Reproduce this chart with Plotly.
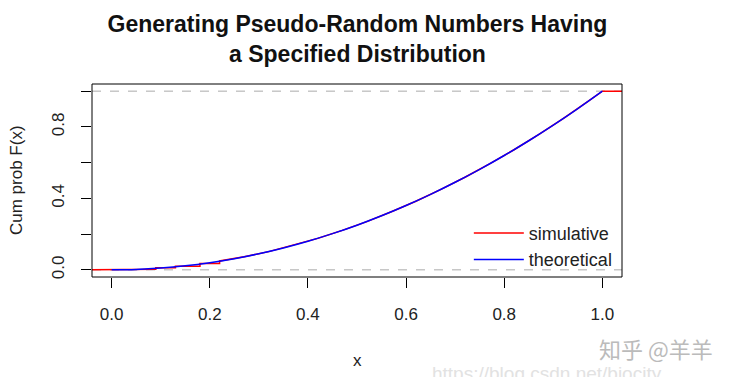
import plotly.graph_objects as go

# theoretical CDF
theo_x = [0.0, 0.05, 0.1, 0.15, 0.2, 0.25, 0.3, 0.35, 0.4, 0.45, 0.5,
          0.55, 0.6, 0.65, 0.7, 0.75, 0.8, 0.85, 0.9, 0.95, 1.0]
theo_y = [0.0, 0.0025, 0.01, 0.0225, 0.04, 0.0625, 0.09, 0.1225, 0.16, 0.2025, 0.25,
          0.3025, 0.36, 0.4225, 0.49, 0.5625, 0.64, 0.7225, 0.81, 0.9025, 1.0]

sim_x = [-0.04, 0.0, 0.03, 0.03, 0.09, 0.09, 0.13, 0.13, 0.18, 0.18, 0.22, 0.22,
         0.27, 0.32, 0.37, 0.42, 0.47, 0.52, 0.57, 0.62, 0.67, 0.72, 0.77,
         0.82, 0.87, 0.92, 0.97, 1.0, 1.04]
sim_y = [0.0, 0.0, 0.0, 0.004, 0.004, 0.012, 0.012, 0.02, 0.02, 0.035, 0.035, 0.05,
         0.073, 0.102, 0.137, 0.176, 0.221, 0.27, 0.325, 0.384, 0.449, 0.518, 0.593,
         0.672, 0.757, 0.846, 0.941, 1.0, 1.0]

x_ticks = [0.0, 0.2, 0.4, 0.6, 0.8, 1.0]
x_tick_labels = ["0.0", "0.2", "0.4", "0.6", "0.8", "1.0"]
y_ticks = [0.0, 0.2, 0.4, 0.6, 0.8, 1.0]
y_tick_labels = ["0.0", "", "0.4", "", "0.8", ""]
ref_levels = [0.0, 1.0]

fig = go.Figure()
fig.add_trace(go.Scatter(x=sim_x, y=sim_y, mode="lines",
                         line=dict(color="red", width=1.5), name="simulative"))
fig.add_trace(go.Scatter(x=theo_x, y=theo_y, mode="lines", line_shape="spline",
                         line=dict(color="blue", width=1.5), name="theoretical"))

for lv in ref_levels:
    fig.add_shape(type="line", xref="paper", x0=0, x1=1, yref="y", y0=lv, y1=lv,
                  line=dict(color="#aaaaaa", width=1, dash="dash"), layer="below")

fig.add_shape(type="rect", xref="paper", yref="paper", x0=0, y0=0, x1=1, y1=1,
              line=dict(color="black", width=1))

font_main = "Liberation Sans, Arial, sans-serif"
fig.update_layout(
    width=731, height=377,
    margin=dict(l=92, r=109, t=84, b=100),
    paper_bgcolor="white", plot_bgcolor="white",
    font=dict(family=font_main, color="#222222", size=17),
    title=dict(text="<b>Generating Pseudo-Random Numbers Having<br>a Specified Distribution</b>",
               x=0.489, xanchor="center", y=1 - 32 / 377, yanchor="middle",
               font=dict(size=23, color="#111111")),
    showlegend=True,
    legend=dict(x=0.711, y=0.322, xanchor="left", yanchor="top",
                bgcolor="rgba(0,0,0,0)", font=dict(size=18, color="#222222"),
                tracegroupgap=0, itemwidth=50),
    xaxis=dict(range=[-0.04, 1.04], tickvals=x_ticks, ticktext=x_tick_labels,
               ticks="outside", ticklen=10, tickcolor="black", showgrid=False,
               zeroline=False, showline=False, tickfont=dict(size=17),
               ticklabelstandoff=12, automargin=False),
    yaxis=dict(range=[-0.04, 1.04], tickvals=y_ticks, ticktext=y_tick_labels,
               ticks="outside", ticklen=10, tickcolor="black", showgrid=False,
               zeroline=False, showline=False, tickangle=-90, tickfont=dict(size=17),
               ticklabelstandoff=10, automargin=False),
)

fig.add_annotation(text="x", xref="paper", yref="paper", x=0.5, y=-(360 - 277) / 193,
                   xanchor="center", yanchor="middle", showarrow=False,
                   font=dict(size=17, color="#222222"))
fig.add_annotation(text="Cum prob F(x)", xref="paper", yref="paper",
                   x=-(92 - 16) / 530, y=(277 - 180) / 193, textangle=-90,
                   xanchor="center", yanchor="middle", showarrow=False,
                   font=dict(size=17, color="#222222"))

fig.add_annotation(text="知乎 @羊羊", xref="paper", yref="paper", x=(597 - 92) / 530,
                   y=-(348 - 277) / 193, xanchor="left", yanchor="middle", showarrow=False,
                   font=dict(size=22, color="#bbbbbb", family="Noto Sans CJK SC"))
fig.add_annotation(text="https://blog.csdn.net/biocity", xref="paper", yref="paper",
                   x=(430 - 92) / 530, y=-(373 - 277) / 193, xanchor="left",
                   yanchor="middle", showarrow=False,
                   font=dict(size=19, color="#e2e2e2"))

fig.write_html("out.html", config={"displayModeBar": False},
               post_script="document.body.style.margin='0';document.body.style.overflow='hidden';")
